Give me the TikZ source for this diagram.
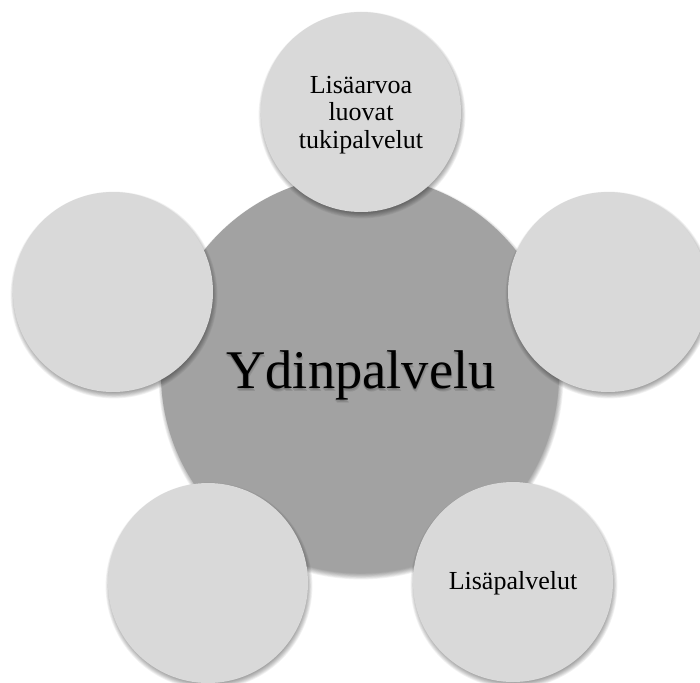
\documentclass[tikz,border=0pt]{standalone}
\usepackage{fontspec}
\setmainfont{Liberation Serif}
\definecolor{petalcol}{HTML}{D9D9D9}
\definecolor{corecol}{HTML}{A2A2A2}
\newcommand\softshade[3]{%
  \foreach \k in {1,...,8}{\fill[black,opacity=0.05] (#1+1,#2+3) circle[radius={#3-3+\k*0.8}];}}
\begin{document}
\begin{tikzpicture}[x=1pt,y=-1pt,
  petal/.style={circle, fill=petalcol, minimum size=200pt, inner sep=0pt,
    font=\fontsize{26}{27.5}\selectfont, align=center, text=black},
  petaltext/.style={inner sep=0pt, font=\fontsize{26}{27.3}\selectfont, align=center, text=black},
  corecircle/.style={circle, fill=corecol, minimum size=398pt, inner sep=0pt},
  coretext/.style={inner sep=0pt, font=\fontsize{54.5}{60}\selectfont},
]
\useasboundingbox (0,0) rectangle (700,682);
\clip (0,0) rectangle (700,682);
\fill[white] (0,0) rectangle (700,682);
% core
\softshade{360}{374}{199}
\node[corecircle] (core) at (360,374) {};
\foreach \dx/\dy in {0/2,1/3,2/4}{
  \node[coretext, text=black, opacity=0.1] at ([shift={(\dx,\dy)}]core.center) {Ydinpalvelu};}
\node[coretext] (coret) at (361,375) {Ydinpalvelu};
% petal shadows
\softshade{361}{112}{100}
\softshade{113}{292}{100}
\softshade{608}{292}{100}
\softshade{208}{583}{100}
\softshade{513}{582}{100}
% petals
\node[petal] (top) at (361,112) {};
\node[petaltext] (toptext) at ([yshift=-3pt]top.center) {Lisäarvoa\\luovat\\tukipalvelut};
\node[petal] (left) at (113,292) {};
\node[petal] (right) at (608,292) {};
\node[petal] (bl) at (208,583) {};
\node[petal] (br) at (513,582) {};
\node[petaltext] (brtext) at ([yshift=-1.5pt]br.center) {Lisäpalvelut};
\end{tikzpicture}
\end{document}
